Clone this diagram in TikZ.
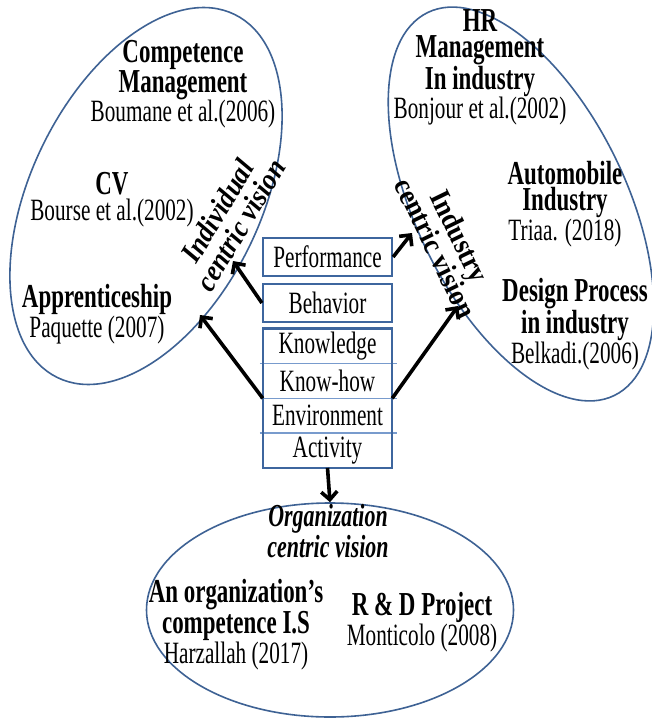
\documentclass[tikz,border=0pt]{standalone}
\usepackage{fontspec}
\setmainfont{Liberation Serif}[FakeStretch=0.685]
\newfontfamily\rotfont{Liberation Serif}[FakeStretch=0.9]
\usetikzlibrary{arrows.meta,shapes.geometric}
\definecolor{ellblue}{RGB}{62,98,148}
\definecolor{boxblue}{RGB}{62,102,158}
\definecolor{sepblue}{RGB}{120,155,205}
\newcommand{\refx}[1]{{\mdseries\fontsize{31}{26}\selectfont #1}}
\tikzset{
  lbl/.style={align=center, anchor=base, inner sep=0pt, font=\fontsize{33.5}{26}\selectfont\bfseries},
  vis/.style={ellipse, draw=ellblue, line width=1.6pt, inner sep=0pt},
  boxtxt/.style={inner sep=0pt, minimum width=129pt, font=\fontsize{31}{26}\selectfont},
  boxline/.style={draw=boxblue, line width=2.2pt},
  sepline/.style={draw=sepblue, line width=1.3pt},
  arr/.style={line width=3.6pt, -{Straight Barb[length=8pt,width=16pt]}},
  rotlbl/.style={align=center, inner sep=0pt, font=\rotfont\fontsize{29.5}{27}\selectfont\bfseries},
  rotlblit/.style={align=center, inner sep=0pt, font=\rotfont\fontsize{29.5}{27}\selectfont\bfseries\itshape},
}
\begin{document}
\begin{tikzpicture}[x=1pt,y=-1pt]
\useasboundingbox[fill=white] (0,0) rectangle (652,722);
% ellipses
\node[vis, minimum width=404pt, minimum height=230pt, rotate=64] (indell) at (146,196) {};
\node[vis, minimum width=426pt, minimum height=210pt, rotate=-64] (indus) at (521,204) {};
\node[vis, minimum width=367pt, minimum height=214pt] (orgell) at (330,610) {};
% left texts (anchor = baseline of last line)
\node[lbl] (comp) at (183,122) {Competence\\Management\\\refx{Boumane et al.(2006)}};
\node[lbl] (cv) at (112,220) {CV\\\refx{Bourse et al.(2002)}};
\node[lbl] (appr) at (97,337) {Apprenticeship\\\refx{Paquette (2007)}};
% right texts
\node[lbl] (hr) at (480,119) {HR\\Management\\In industry\\\refx{Bonjour et al.(2002)}};
\node[lbl] (auto) at (565,240) {Automobile\\Industry\\\refx{Triaa. (2018)}};
\node[lbl] (design) at (575,363) {Design Process\\in industry\\\refx{Belkadi.(2006)}};
% bottom texts
\node[lbl, font=\fontsize{32}{26}\selectfont\bfseries\itshape] (orglbl) at (328,557) {Organization\\centric vision};
\node[lbl] (anorg) at (236,663) {An organization’s\\competence I.S\\\refx{Harzallah (2017)}};
\node[lbl] (rd) at (422,645) {R \& D Project\\\refx{Monticolo (2008)}};
% rotated labels
\node[rotlblit, rotate=59] (indlbl) at (229,218) {Individual\\centric vision};
\node[rotlbl, rotate=-64] (induslbl) at (448,242) {Industry\\centric vision};
% boxes
\node[boxtxt, boxline, minimum height=38pt] (perf) at (327.5,257) {Performance};
\node[boxtxt, boxline, minimum height=38pt] (behav) at (327.5,303) {Behavior};
\node[boxtxt, minimum height=34.75pt] (know) at (327.5,346) {Knowledge};
\node[boxtxt, minimum height=34.75pt] (khow) at (327.5,380.75) {Know-how};
\node[boxtxt, minimum height=34.75pt] (env) at (327.5,415.5) {Environment};
\node[boxtxt, minimum height=34.75pt] (act) at (327.5,450.25) {Activity};
\draw[sepline] ([xshift=-3pt]know.south west) -- ([xshift=5pt]know.south east);
\draw[sepline] ([xshift=-3pt]khow.south west) -- ([xshift=5pt]khow.south east);
\draw[sepline] ([xshift=-3pt]env.south west) -- ([xshift=5pt]env.south east);
\draw[boxline] (know.north west) rectangle (act.south east);
% arrows
\coordinate (tipA) at (233,261);
\coordinate (tipB) at (200,315);
\coordinate (tipC) at (412,233);
\coordinate (tipD) at (458,306);
\draw[arr] (behav.west) -- (tipA);
\draw[arr] (khow.south west) -- (tipB);
\draw[arr] (perf.east) -- (tipC);
\draw[arr] (khow.south east) -- (tipD);
\draw[arr] (act.south) -- (orgell.north);
\end{tikzpicture}
\end{document}
